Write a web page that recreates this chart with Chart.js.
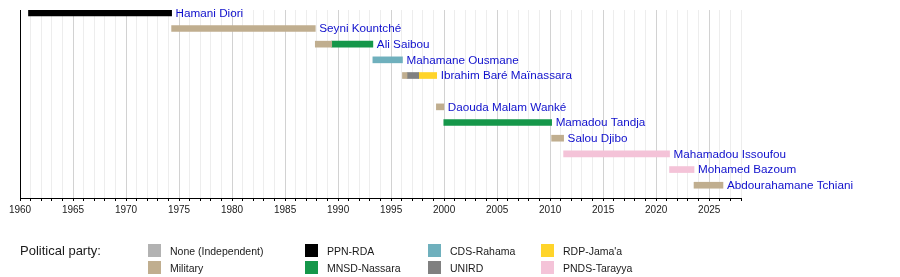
<!DOCTYPE html>
<html>
<head>
<meta charset="utf-8">
<script src="https://cdn.jsdelivr.net/npm/chart.js@4"></script>
<style>
  html, body { margin: 0; padding: 0; background: #fff; }
  #wrap { position: relative; width: 900px; height: 277px; }
  #chart { position: absolute; left: 0; top: 0; }
  #legend { position: absolute; left: 0; top: 0; width: 900px; height: 277px; pointer-events: none;
            font-family: "Liberation Sans", Arial, sans-serif; color: #1a1a1a; }
  .lg-title { position: absolute; left: 20px; top: 243px; font-size: 13px; line-height: 16px; white-space: nowrap; }
  .lg-sw { position: absolute; width: 13px; height: 13px; }
  .lg-tx { position: absolute; font-size: 10.5px; line-height: 13px; white-space: nowrap; }
</style>
</head>
<body>
<div id="wrap">
  <canvas id="chart" width="900" height="277"></canvas>
  <div id="legend"></div>
</div>
<script>
// ---- data ----
const rowNames = [
  "Hamani Diori", "Seyni Kountché", "Ali Saibou", "Mahamane Ousmane",
  "Ibrahim Baré Maïnassara", "", "Daouda Malam Wanké", "Mamadou Tandja",
  "Salou Djibo", "Mahamadou Issoufou", "Mohamed Bazoum", "Abdourahamane Tchiani"
];
const parties = [
  "None (Independent)", "Military", "PPN-RDA", "MNSD-Nassara",
  "CDS-Rahama", "UNIRD", "RDP-Jama'a", "PNDS-Tarayya"
];
// terms: row index, party, start year, end year
const termRow   = [0, 1, 2, 2, 3, 4, 4, 4, 6, 7, 8, 9, 10, 11];
const termParty = ["PPN-RDA", "Military", "Military", "MNSD-Nassara", "CDS-Rahama",
                   "Military", "UNIRD", "RDP-Jama'a", "Military", "MNSD-Nassara",
                   "Military", "PNDS-Tarayya", "PNDS-Tarayya", "Military"];
const termStart = [1960.8, 1974.3, 1987.85, 1989.4, 1993.28, 1996.07, 1996.5, 1997.6,
                   1999.27, 1999.97, 2010.14, 2011.27, 2021.26, 2023.57];
const termEnd   = [1974.3, 1987.85, 1989.4, 1993.28, 1996.07, 1996.5, 1997.6, 1999.3,
                   1999.97, 2010.14, 2011.27, 2021.26, 2023.57, 2026.3];
const yearMin = 1960, yearMax = 2028, majorStep = 5;

// ---- styles ----
const partyColors = {
  "None (Independent)": "#b2b2b2",
  "Military": "#c0ae8f",
  "PPN-RDA": "#000000",
  "MNSD-Nassara": "#15974a",
  "CDS-Rahama": "#6fb0bd",
  "UNIRD": "#808080",
  "RDP-Jama'a": "#ffd42a",
  "PNDS-Tarayya": "#f4c3d8"
};
const FONT = '"Liberation Sans", Arial, sans-serif';

const datasets = parties.map(p => ({
  label: p,
  data: termParty.map((tp, i) => tp === p ? { x: [termStart[i], termEnd[i]], y: termRow[i] } : null)
                 .filter(d => d !== null),
  backgroundColor: partyColors[p],
  borderWidth: 0,
  borderSkipped: false,
  barThickness: 6,
  grouped: false
}));

const nameLabels = {
  id: 'nameLabels',
  afterDatasetsDraw(chart) {
    const ctx = chart.ctx, xs = chart.scales.x, ys = chart.scales.y;
    ctx.save();
    ctx.font = '11.7px ' + FONT;
    ctx.fillStyle = '#1010cc';
    ctx.textBaseline = 'middle';
    ctx.textAlign = 'left';
    rowNames.forEach((name, r) => {
      if (!name) return;
      let end = -Infinity;
      termRow.forEach((tr, i) => { if (tr === r) end = Math.max(end, termEnd[i]); });
      ctx.fillText(name, xs.getPixelForValue(end) + 4, ys.getPixelForValue(r) + 0.5);
    });
    ctx.restore();
  }
};

new Chart(document.getElementById('chart'), {
  type: 'bar',
  data: { datasets },
  options: {
    indexAxis: 'y',
    responsive: false,
    animation: false,
    layout: { padding: { left: 20, right: 159, top: 10, bottom: 0 } },
    plugins: { legend: { display: false }, tooltip: { enabled: false } },
    scales: {
      x: {
        type: 'linear', min: yearMin, max: yearMax, offset: false,
        afterFit(s) { s.height = 79; },
        border: { display: true, color: '#000', width: 1 },
        grid: {
          drawTicks: true, tickLength: 3, tickColor: '#000', tickWidth: 1, offset: false,
          color: c => (c.tick && c.tick.value % majorStep === 0) ? '#d2d2d2' : '#ededed',
          lineWidth: 1
        },
        ticks: {
          stepSize: 1, autoSkip: false, maxRotation: 0, padding: 3,
          color: '#1a1a1a', font: { family: FONT, size: 10 },
          callback: v => (v % majorStep === 0 ? String(v) : '')
        }
      },
      y: {
        type: 'linear', reverse: true, min: -0.18, max: 11.815, offset: false,
        afterFit(s) { s.width = 0; },
        border: { display: true, color: '#000', width: 1 },
        grid: { display: false, drawTicks: false, offset: false },
        ticks: { display: false }
      }
    }
  },
  plugins: [nameLabels]
});

// ---- HTML legend ----
const legend = document.getElementById('legend');
const t = document.createElement('div');
t.className = 'lg-title'; t.textContent = 'Political party:';
legend.appendChild(t);
const colX = [148, 305, 428, 541], rowY = [244, 261];
parties.forEach((p, i) => {
  const col = Math.floor(i / 2), row = i % 2;
  const sw = document.createElement('div');
  sw.className = 'lg-sw';
  sw.style.left = colX[col] + 'px'; sw.style.top = rowY[row] + 'px';
  sw.style.background = partyColors[p];
  legend.appendChild(sw);
  const tx = document.createElement('div');
  tx.className = 'lg-tx';
  tx.style.left = (colX[col] + 22) + 'px'; tx.style.top = (rowY[row] + 1) + 'px';
  tx.textContent = p;
  legend.appendChild(tx);
});
</script>
</body>
</html>
